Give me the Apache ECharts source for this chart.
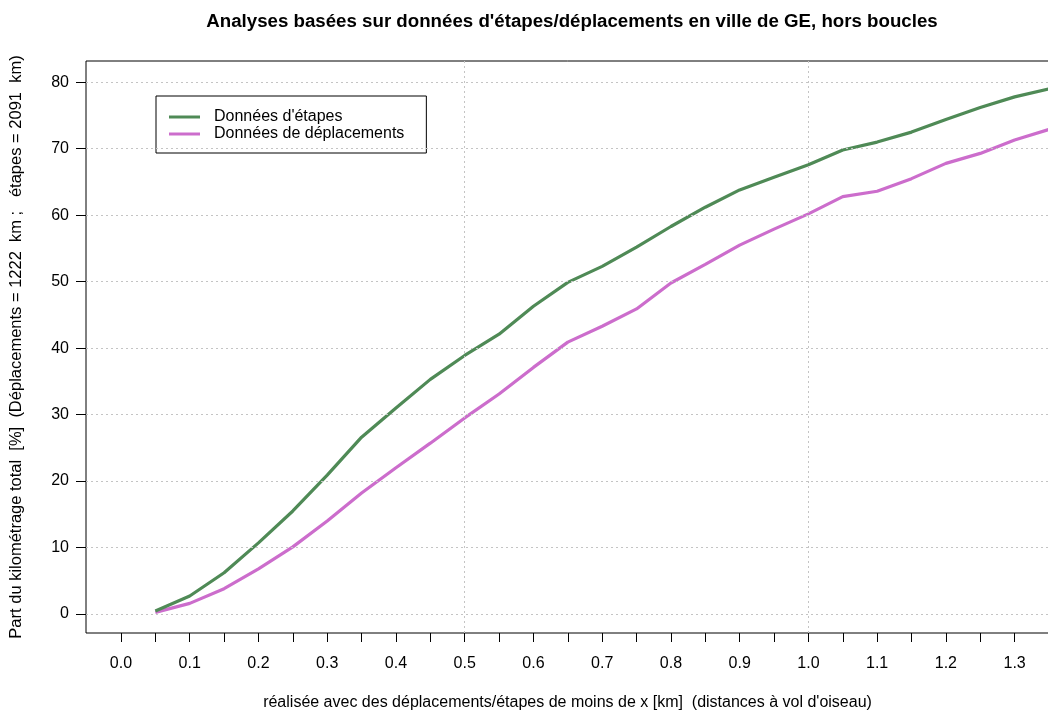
<!DOCTYPE html>
<html>
<head>
<meta charset="utf-8">
<script src="https://cdn.jsdelivr.net/npm/echarts@6/dist/echarts.min.js"></script>
<style>
  html, body { margin: 0; padding: 0; background: #fff; }
  #chart { width: 1048px; height: 713px; }
</style>
</head>
<body>
<div id="chart"></div>
<script>
// Distance thresholds x [km]
const distances = [0.05, 0.10, 0.15, 0.20, 0.25, 0.30, 0.35, 0.40, 0.45, 0.50,
                   0.55, 0.60, 0.65, 0.70, 0.75, 0.80, 0.85, 0.90, 0.95, 1.00,
                   1.05, 1.10, 1.15, 1.20, 1.25, 1.30, 1.35];
// Cumulative share of total distance [%]
const etapes = [0.45, 2.7, 6.2, 10.7, 15.5, 20.9, 26.6, 31.0, 35.3, 38.9,
                42.1, 46.3, 49.9, 52.3, 55.2, 58.3, 61.2, 63.8, 65.7, 67.6,
                69.8, 71.0, 72.5, 74.4, 76.2, 77.8, 79.0];
const deplacements = [0.25, 1.6, 3.8, 6.8, 10.1, 14.0, 18.2, 22.0, 25.7, 29.5,
                      33.1, 37.1, 40.9, 43.3, 45.9, 49.8, 52.6, 55.5, 57.9, 60.2,
                      62.8, 63.6, 65.5, 67.8, 69.3, 71.3, 72.9];
const xTicks = [0, 0.05, 0.1, 0.15, 0.2, 0.25, 0.3, 0.35, 0.4, 0.45, 0.5, 0.55, 0.6, 0.65,
                0.7, 0.75, 0.8, 0.85, 0.9, 0.95, 1.0, 1.05, 1.1, 1.15, 1.2, 1.25, 1.3, 1.35];
const xLabels = [0, 0.1, 0.2, 0.3, 0.4, 0.5, 0.6, 0.7, 0.8, 0.9, 1.0, 1.1, 1.2, 1.3];
const yTicks = [0, 10, 20, 30, 40, 50, 60, 70, 80];
const vGrid = [0.5, 1.0];

const FONT = '"Liberation Sans", Arial, Helvetica, sans-serif';
const GREEN = '#4f8a56';
const PURPLE = '#cc6dcc';

const pair = (xs, ys) => xs.map((x, i) => [x, ys[i]]);

const gridMarks = vGrid.map(v => ({ xAxis: v })).concat(yTicks.map(v => ({ yAxis: v })));

const chart = echarts.init(document.getElementById('chart'), null, { renderer: 'canvas' });
chart.setOption({
  animation: false,
  backgroundColor: '#ffffff',
  title: {
    text: "Analyses basées sur données d'étapes/déplacements en ville de GE, hors boucles",
    left: 567,
    top: 7,
    textAlign: 'center',
    textStyle: { fontFamily: FONT, fontSize: 18.7, fontWeight: 'bold', color: '#000' }
  },
  legend: {
    orient: 'vertical',
    left: 156,
    top: 96,
    data: ["Données d'étapes", 'Données de déplacements'],
    icon: 'rect',
    backgroundColor: '#fff',
    borderColor: '#000',
    borderWidth: 1,
    padding: [13, 22, 11, 13],
    itemWidth: 31,
    itemHeight: 3,
    itemGap: 1,
    selectedMode: false,
    textStyle: { fontFamily: FONT, fontSize: 16, lineHeight: 16, color: '#000', padding: [0, 0, 0, 9] }
  },
  grid: {
    left: 86, right: -1, top: 61, bottom: 80,
    outerBoundsMode: 'none',
    containLabel: false,
    show: true, borderColor: '#000', borderWidth: 1, backgroundColor: 'transparent'
  },
  xAxis: {
    type: 'value',
    min: -0.0509,
    max: 1.35,
    name: "réalisée avec des déplacements/étapes de moins de x [km]  (distances à vol d'oiseau)",
    nameLocation: 'middle',
    nameGap: 62,
    nameTextStyle: { fontFamily: FONT, fontSize: 16, color: '#000' },
    axisLine: { show: false, onZero: false },
    axisTick: { show: true, customValues: xTicks, length: 9, lineStyle: { color: '#000', width: 1 } },
    axisLabel: {
      customValues: xLabels, margin: 23, fontFamily: FONT, fontSize: 16, color: '#000',
      formatter: v => v.toFixed(1)
    },
    splitLine: { show: false }
  },
  yAxis: {
    type: 'value',
    min: -2.86,
    max: 83.2,
    name: 'Part du kilométrage total  [%]  (Déplacements = 1222  km ;   étapes = 2091  km)',
    nameLocation: 'middle',
    nameGap: 61,
    nameTextStyle: { fontFamily: FONT, fontSize: 16.5, color: '#000' },
    axisLine: { show: false, onZero: false },
    axisTick: { show: true, customValues: yTicks, length: 10, lineStyle: { color: '#000', width: 1 } },
    axisLabel: { customValues: yTicks, margin: 17, fontFamily: FONT, fontSize: 16, color: '#000' },
    splitLine: { show: false }
  },
  series: [
    {
      name: 'grid',
      type: 'line',
      data: [],
      z: 1,
      silent: true,
      markLine: {
        silent: true,
        symbol: ['none', 'none'],
        label: { show: false },
        lineStyle: { color: '#c4c4c4', type: [2, 3], width: 1 },
        emphasis: { disabled: true },
        data: gridMarks
      }
    },
    {
      name: "Données d'étapes",
      type: 'line',
      data: pair(distances, etapes),
      showSymbol: false,
      symbol: 'none',
      z: 3,
      color: GREEN,
      lineStyle: { color: GREEN, width: 3.2 }
    },
    {
      name: 'Données de déplacements',
      type: 'line',
      data: pair(distances, deplacements),
      showSymbol: false,
      symbol: 'none',
      z: 2,
      color: PURPLE,
      lineStyle: { color: PURPLE, width: 3.2 }
    }
  ]
});
</script>
</body>
</html>
